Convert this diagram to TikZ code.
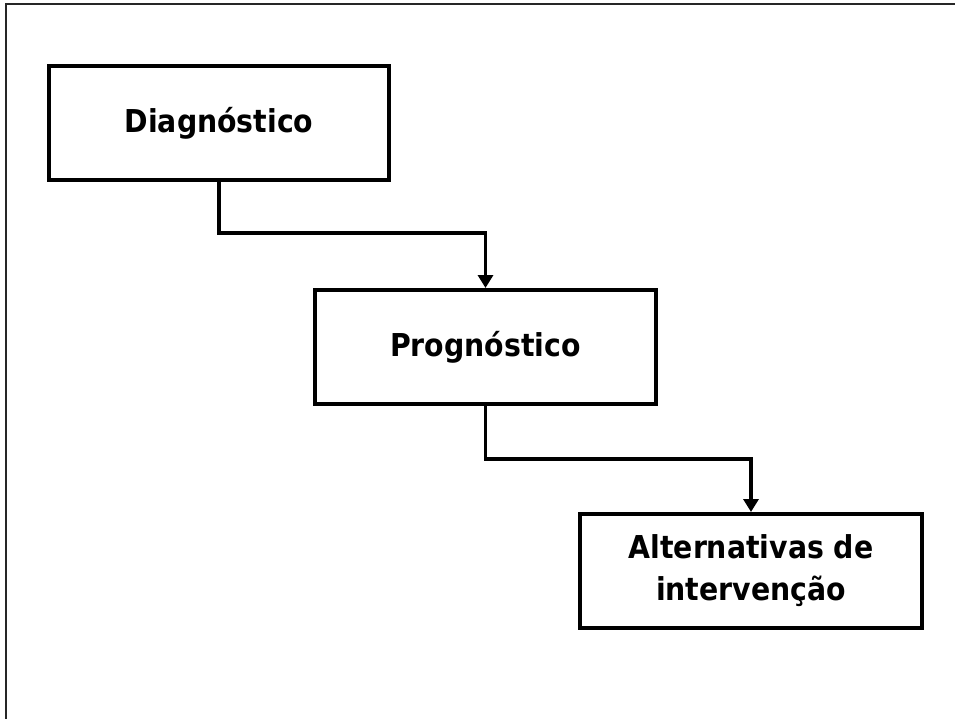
\documentclass[tikz,border=0pt]{standalone}
\usepackage{fontspec}
\setmainfont{DejaVu Sans Condensed}
\usetikzlibrary{arrows.meta}
\begin{document}
\begin{tikzpicture}[x=1pt,y=-1pt,
  box/.style={draw=black,line width=4pt,inner sep=0pt,font=\fontsize{31.5}{42}\selectfont\bfseries,align=center},
  conn/.style={line width=3.5pt,-{Triangle[width=15pt,length=13pt]}}]
\useasboundingbox (0,0) rectangle (955,719);
\draw[line width=2.2pt,black!85] (6,719) -- (6,4) -- (955,4);
\node[box,minimum width=340pt,minimum height=114pt] (d) at (219,123) {Diagnóstico};
\node[box,minimum width=341pt,minimum height=114pt] (p) at (485.5,347) {Prognóstico};
\node[box,minimum width=342pt,minimum height=114pt] (a) at (751,571) {Alternativas de\\intervenção};
\draw[conn] (d.south) |- (485.5,233) -- (p.north);
\draw[conn] (p.south) |- (751,459) -- (a.north);
\end{tikzpicture}
\end{document}
